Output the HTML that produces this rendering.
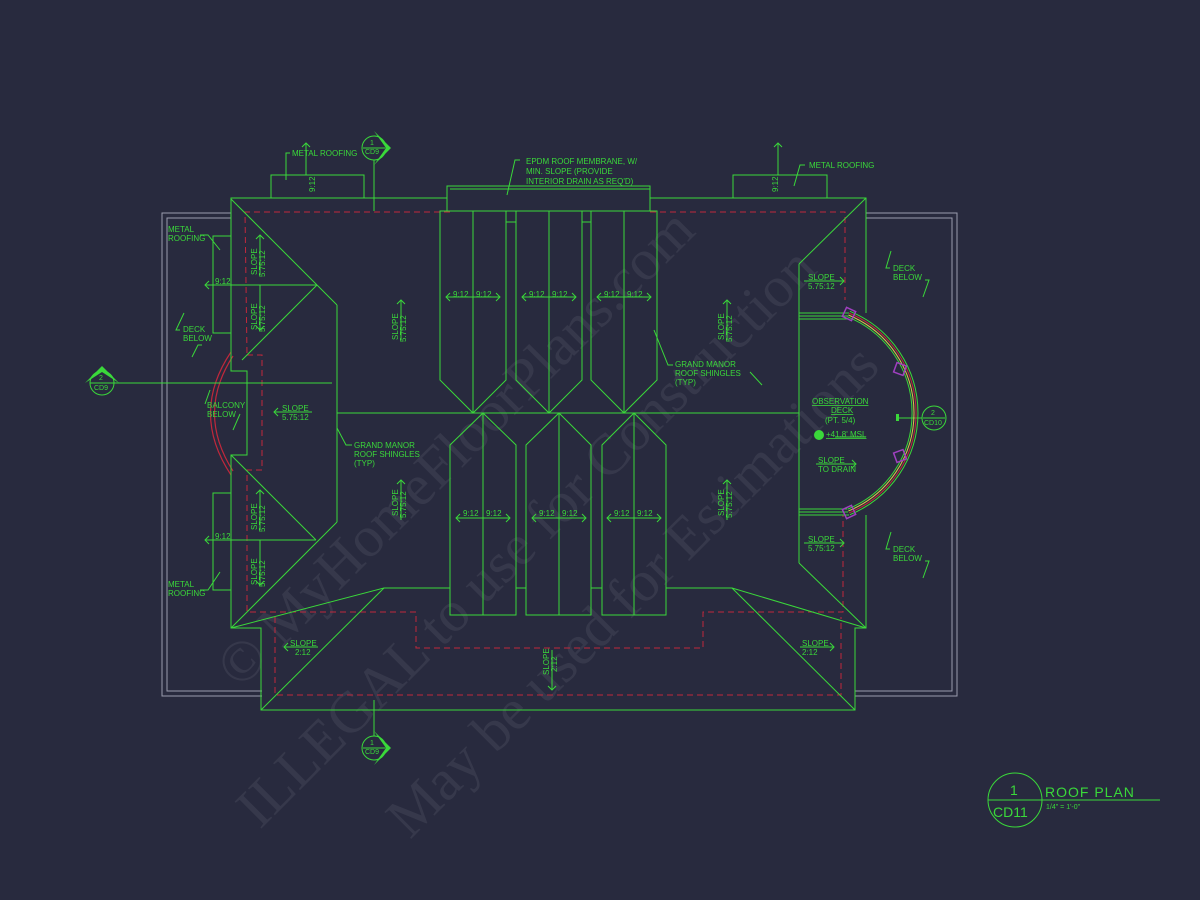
<!DOCTYPE html>
<html><head><meta charset="utf-8"><style>
html,body{margin:0;padding:0;background:#282a3e;}
svg{display:block}
text{font-family:"Liberation Sans",sans-serif;fill:#3ad83a;font-size:8px;}
</style></head><body>
<svg width="1200" height="900" viewBox="0 0 1200 900" xmlns="http://www.w3.org/2000/svg">
<rect width="1200" height="900" fill="#282a3e"/>
<!-- watermark -->
<g opacity="0.15">
<text x="0" y="0" transform="translate(240,690) rotate(-45)" style="font-size:58px;fill:#8a8c98;font-family:'Liberation Serif',serif">© MyHomeFloorPlans.com</text>
<text x="0" y="0" transform="translate(260,830) rotate(-45)" style="font-size:58px;fill:#8a8c98;font-family:'Liberation Serif',serif">ILLEGAL to use for Construction</text>
<text x="0" y="0" transform="translate(410,840) rotate(-45)" style="font-size:58px;fill:#8a8c98;font-family:'Liberation Serif',serif">May be used for Estimations</text>
</g>
<!-- gray outlines -->
<g fill="none" stroke="#9a9cae" stroke-width="1">
<polyline points="231,213 162,213 162,696 262,696"/>
<polyline points="231,218 167,218 167,691 262,691"/>
<polyline points="866,213 957,213 957,696 855,696"/>
<polyline points="866,218 952,218 952,691 855,691"/>
</g>
<!-- red dashed -->
<g fill="none" stroke="#c0283c" stroke-width="1" stroke-dasharray="6,4">
<polyline points="450,212 245,212 247,355"/>
<polyline points="247,355 262,355 262,470 247,470 247,612 416,612 416,648 703,648 703,612 843,612 843,515"/>
<polyline points="650,212 845,212 845,300"/>
<polyline points="275,617 275,695 841,695 841,617"/>
</g>
<!-- balcony arc -->
<g fill="none" stroke="#c0283c" stroke-width="1.2">
<path d="M231,352 Q190,413 231,475"/>
<path d="M233,356 Q196,413 233,471"/>
</g>
<!-- green roof lines -->
<g fill="none" stroke="#3ad83a" stroke-width="1">
<polyline points="447,198 231,198 231,371 247,371 247,455 231,455 231,628 261,628 261,710 855,710 855,628 866,628 866,515"/>
<polyline points="650,198 866,198 866,313"/>
<rect x="447" y="186" width="203" height="25"/>
<line x1="450" y1="189" x2="650" y2="189"/>
<rect x="271" y="175" width="93" height="23"/>
<rect x="733" y="175" width="94" height="23"/>
<rect x="213" y="236" width="18" height="97"/>
<rect x="213" y="493" width="18" height="97"/>
<line x1="231" y1="199" x2="317" y2="285"/>
<line x1="231" y1="285" x2="317" y2="285"/>
<line x1="317" y1="285" x2="337" y2="305"/>
<line x1="317" y1="285" x2="242" y2="360"/>
<line x1="337" y1="305" x2="337" y2="522"/>
<line x1="337" y1="522" x2="231" y2="628"/>
<line x1="231" y1="455" x2="316" y2="540"/>
<line x1="231" y1="540" x2="316" y2="540"/>
<line x1="337" y1="413" x2="799" y2="413"/>
<line x1="866" y1="198" x2="799" y2="264"/>
<line x1="799" y1="264" x2="799" y2="563"/>
<line x1="799" y1="563" x2="866" y2="628"/>
<line x1="231" y1="628" x2="384" y2="588"/>
<line x1="261" y1="710" x2="384" y2="588"/>
<line x1="384" y1="588" x2="450" y2="588"/>
<line x1="516" y1="588" x2="526" y2="588"/>
<line x1="591" y1="588" x2="602" y2="588"/>
<line x1="666" y1="588" x2="732" y2="588"/>
<line x1="732" y1="588" x2="866" y2="628"/>
<line x1="732" y1="588" x2="855" y2="710"/>
<polygon points="440,211 506,211 506,380 473,413 440,380"/><line x1="473" y1="211" x2="473" y2="413"/>
<polygon points="516,211 582,211 582,380 549,413 516,380"/><line x1="549" y1="211" x2="549" y2="413"/>
<polygon points="591,211 657,211 657,380 624,413 591,380"/><line x1="624" y1="211" x2="624" y2="413"/>
<line x1="506" y1="222" x2="516" y2="222"/><line x1="582" y1="222" x2="591" y2="222"/>
<polygon points="483,413 516,445 516,615 450,615 450,445"/><line x1="483" y1="413" x2="483" y2="615"/>
<polygon points="559,413 591,445 591,615 526,615 526,445"/><line x1="559" y1="413" x2="559" y2="615"/>
<polygon points="634,413 666,445 666,615 602,615 602,445"/><line x1="634" y1="413" x2="634" y2="615"/>
<line x1="374" y1="160" x2="374" y2="211"/>
<line x1="374" y1="700" x2="374" y2="736"/>
<line x1="90" y1="383" x2="332" y2="383"/>
<line x1="897" y1="418" x2="922" y2="418"/>
<line x1="799" y1="313" x2="849" y2="313"/><line x1="799" y1="316" x2="848" y2="316"/><line x1="799" y1="319" x2="847" y2="319"/>
<line x1="799" y1="509" x2="847" y2="509"/><line x1="799" y1="512" x2="848" y2="512"/><line x1="799" y1="515" x2="849" y2="515"/>
</g>
<g fill="none" stroke-width="1">
<path d="M847.6,316.8 A104,104 0 0 1 847.6,509.2" stroke="#3ad83a"/>
<path d="M848.4,315 A106,106 0 0 1 848.4,511" stroke="#d8c84a"/>
<path d="M849.1,313.1 A108,108 0 0 1 849.1,512.9" stroke="#c0283c"/>
<path d="M849.9,311.3 A110,110 0 0 1 849.9,514.7" stroke="#3ad83a"/>
</g>
<g fill="none" stroke="#a040c0" stroke-width="1.5">
<rect x="844" y="309" width="10" height="10" transform="rotate(25 849 314)"/>
<rect x="895" y="364" width="10" height="10" transform="rotate(20 900 369)"/>
<rect x="895" y="451" width="10" height="10" transform="rotate(-20 900 456)"/>
<rect x="844" y="507" width="10" height="10" transform="rotate(-25 849 512)"/>
</g>
<!-- markers -->
<g stroke="#3ad83a" fill="none">
<circle cx="374" cy="148" r="12"/><line x1="363" y1="148" x2="385" y2="148"/>
<circle cx="374" cy="748" r="12"/><line x1="363" y1="748" x2="385" y2="748"/>
<circle cx="102" cy="383" r="12"/><line x1="91" y1="383" x2="113" y2="383"/>
<circle cx="934" cy="418" r="12"/><line x1="923" y1="418" x2="945" y2="418"/>
<circle cx="1015" cy="800" r="27"/><line x1="988" y1="800" x2="1160" y2="800"/>
</g>
<g fill="#3ad83a">
<polygon points="374,131 391,148 374,165 386,148"/>
<polygon points="374,731 391,748 374,765 386,748"/>
<polygon points="85,383 102,366 119,383 102,372"/>
<rect x="896" y="414" width="3" height="7"/>
<circle cx="819" cy="435" r="5"/>
</g>
<text x="370" y="145" style="font-size:7px">1</text><text x="365" y="154" style="font-size:7px">CD9</text>
<text x="370" y="745" style="font-size:7px">1</text><text x="365" y="754" style="font-size:7px">CD9</text>
<text x="99" y="380" style="font-size:7px">2</text><text x="94" y="390" style="font-size:7px">CD9</text>
<text x="931" y="415" style="font-size:7px">2</text><text x="924" y="425" style="font-size:7px">CD10</text>
<text x="1010" y="795" style="font-size:14px">1</text>
<text x="993" y="817" style="font-size:14px">CD11</text>
<text x="1045" y="797" style="font-size:14px;letter-spacing:1px">ROOF PLAN</text>
<text x="1046" y="809" style="font-size:7px">1/4" = 1'-0"</text>
<text x="292" y="156">METAL ROOFING</text>
<text x="809" y="168">METAL ROOFING</text>
<text x="526" y="164">EPDM ROOF MEMBRANE, W/</text>
<text x="526" y="174">MIN. SLOPE  (PROVIDE</text>
<text x="526" y="184">INTERIOR DRAIN AS REQ'D)</text>
<text x="168" y="232">METAL</text><text x="168" y="241">ROOFING</text>
<text x="168" y="587">METAL</text><text x="168" y="596">ROOFING</text>
<text x="183" y="332">DECK</text><text x="183" y="341">BELOW</text>
<text x="207" y="408">BALCONY</text><text x="207" y="417">BELOW</text>
<text x="893" y="271">DECK</text><text x="893" y="280">BELOW</text>
<text x="893" y="552">DECK</text><text x="893" y="561">BELOW</text>
<text x="354" y="448">GRAND MANOR</text><text x="354" y="457">ROOF SHINGLES</text><text x="354" y="466">(TYP)</text>
<text x="675" y="367">GRAND MANOR</text><text x="675" y="376">ROOF SHINGLES</text><text x="675" y="385">(TYP)</text>
<text x="812" y="404" style="text-decoration:underline">OBSERVATION</text>
<text x="831" y="413" style="text-decoration:underline">DECK</text>
<text x="825" y="423">(PT. 5/4)</text>
<text x="826" y="437" style="text-decoration:underline">+41.8' MSL</text>
<text x="818" y="463">SLOPE</text><text x="818" y="472">TO DRAIN</text>
<text x="808" y="280">SLOPE</text><text x="808" y="289">5.75:12</text>
<text x="808" y="542">SLOPE</text><text x="808" y="551">5.75:12</text>
<text x="282" y="411">SLOPE</text><text x="282" y="420">5.75:12</text>
<text x="290" y="646">SLOPE</text><text x="295" y="655">2:12</text>
<text x="802" y="646">SLOPE</text><text x="802" y="655">2:12</text>
<text x="215" y="284">9:12</text><text x="215" y="539">9:12</text>
<g>
<text x="453" y="297">9:12</text><text x="476" y="297">9:12</text>
<text x="529" y="297">9:12</text><text x="552" y="297">9:12</text>
<text x="604" y="297">9:12</text><text x="627" y="297">9:12</text>
<text x="463" y="516">9:12</text><text x="486" y="516">9:12</text>
<text x="539" y="516">9:12</text><text x="562" y="516">9:12</text>
<text x="614" y="516">9:12</text><text x="637" y="516">9:12</text>
</g>
<g style="font-size:7px">
<text transform="translate(398,340) rotate(-90)">SLOPE</text><text transform="translate(406,342) rotate(-90)">5.75:12</text>
<text transform="translate(398,516) rotate(-90)">SLOPE</text><text transform="translate(406,518) rotate(-90)">5.75:12</text>
<text transform="translate(724,340) rotate(-90)">SLOPE</text><text transform="translate(732,342) rotate(-90)">5.75:12</text>
<text transform="translate(724,516) rotate(-90)">SLOPE</text><text transform="translate(732,518) rotate(-90)">5.75:12</text>
<text transform="translate(257,275) rotate(-90)">SLOPE</text><text transform="translate(265,277) rotate(-90)">5.75:12</text>
<text transform="translate(257,330) rotate(-90)">SLOPE</text><text transform="translate(265,332) rotate(-90)">5.75:12</text>
<text transform="translate(257,530) rotate(-90)">SLOPE</text><text transform="translate(265,532) rotate(-90)">5.75:12</text>
<text transform="translate(257,585) rotate(-90)">SLOPE</text><text transform="translate(265,587) rotate(-90)">5.75:12</text>
<text transform="translate(549,675) rotate(-90)">SLOPE</text><text transform="translate(557,672) rotate(-90)">2:12</text>
<text transform="translate(315,192) rotate(-90)">9:12</text>
<text transform="translate(778,192) rotate(-90)">9:12</text>
</g>
<g stroke="#3ad83a" fill="none" stroke-width="1">
<path d="M446,297 H500 M450,293 L446,297 L450,301 M496,293 L500,297 L496,301"/>
<path d="M522,297 H576 M526,293 L522,297 L526,301 M572,293 L576,297 L572,301"/>
<path d="M597,297 H651 M601,293 L597,297 L601,301 M647,293 L651,297 L647,301"/>
<path d="M456,518 H510 M460,514 L456,518 L460,522 M506,514 L510,518 L506,522"/>
<path d="M532,518 H586 M536,514 L532,518 L536,522 M582,514 L586,518 L582,522"/>
<path d="M607,518 H661 M611,514 L607,518 L611,522 M657,514 L661,518 L657,522"/>
<path d="M205,285 H231 M209,281 L205,285 L209,289"/>
<path d="M205,540 H231 M209,536 L205,540 L209,544"/>
<path d="M274,412 H312 M278,408 L274,412 L278,416"/>
<path d="M284,647 H318 M288,643 L284,647 L288,651"/>
<path d="M804,281 H844 M840,277 L844,281 L840,285"/>
<path d="M804,543 H844 M840,539 L844,543 L840,547"/>
<path d="M800,647 H834 M830,643 L834,647 L830,651"/>
<path d="M816,464 H856 M852,460 L856,464 L852,468"/>
<path d="M306,175 V143 M302,147 L306,143 L310,147"/>
<path d="M778,175 V143 M774,147 L778,143 L782,147"/>
<path d="M401,300 V340 M397,304 L401,300 L405,304"/>
<path d="M401,480 V520 M397,484 L401,480 L405,484"/>
<path d="M727,300 V340 M723,304 L727,300 L731,304"/>
<path d="M727,480 V520 M723,484 L727,480 L731,484"/>
<path d="M260,235 V275 M256,239 L260,235 L264,239"/>
<path d="M260,285 V330 M256,326 L260,330 L264,326"/>
<path d="M260,490 V530 M256,494 L260,490 L264,494"/>
<path d="M260,540 V585 M256,581 L260,585 L264,581"/>
<path d="M552,650 V690 M548,686 L552,690 L556,686"/>
<path d="M290,153 H286 V180"/>
<path d="M805,165 H800 L794,186"/>
<path d="M520,160 L515,160 L507,195"/>
<path d="M200,235 H208 L220,250"/>
<path d="M200,590 H208 L220,572"/>
<path d="M180,330 L176,330 L184,313"/>
<path d="M202,345 L198,345 L192,357"/>
<path d="M205,404 L210,390"/>
<path d="M240,414 L233,430"/>
<path d="M352,445 L346,445 L337,428"/>
<path d="M673,365 L668,365 L654,330"/>
<path d="M750,372 L762,385"/>
<path d="M890,268 L886,268 L891,251"/>
<path d="M925,280 L929,280 L923,297"/>
<path d="M890,549 L886,549 L891,532"/>
<path d="M925,561 L929,561 L923,578"/>
<path d="M835,437 H866"/>
</g>
</svg>
</body></html>
